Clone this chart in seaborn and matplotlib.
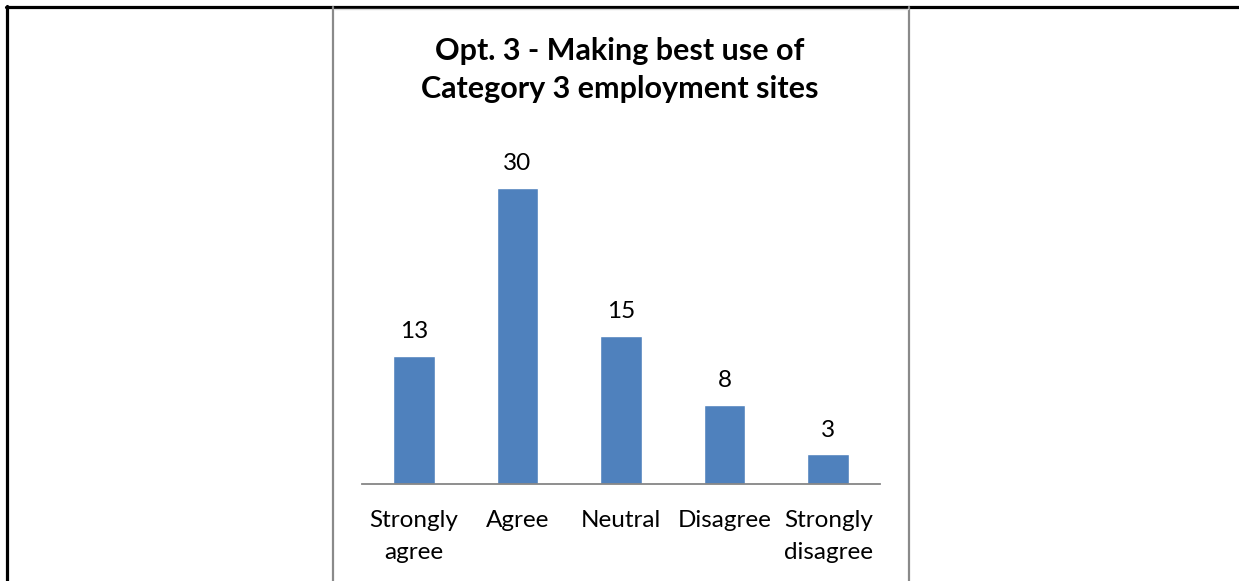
import matplotlib.pyplot as plt
import seaborn as sns
import pandas as pd
from matplotlib.lines import Line2D

categorias = ['Strongly\nagree', 'Agree', 'Neutral', 'Disagree', 'Strongly\ndisagree']
respostas = [13, 30, 15, 8, 3]
titulo = 'Opt. 3 - Making best use of\nCategory 3 employment sites'

df = pd.DataFrame({'categoria': categorias, 'respostas': respostas})

sns.set_style('white')
plt.rcParams['font.family'] = ['Lato', 'DejaVu Sans']
plt.rcParams['text.color'] = 'black'
plt.rcParams['xtick.color'] = 'black'

fig = plt.figure(figsize=(12.39, 5.81), dpi=100)

# Moldura da tabela (linhas pretas) e do gráfico (cinza)
fig.add_artist(Line2D([6 / 1239, 1], [1 - 6.5 / 581] * 2, color='black', lw=2.3,
                      transform=fig.transFigure))
fig.add_artist(Line2D([7 / 1239] * 2, [0, 1 - 6 / 581], color='black', lw=2.3,
                      transform=fig.transFigure))
for xpix in [333, 909]:
    fig.add_artist(Line2D([xpix / 1239] * 2, [0, 1 - 7 / 581], color='#8a8a8a', lw=1.6,
                          transform=fig.transFigure))
fig.add_artist(Line2D([334 / 1239, 908 / 1239], [1 - 8.5 / 581] * 2, color='#d9d9d9', lw=1,
                      transform=fig.transFigure))

ax = fig.add_axes([362 / 1239, (581 - 484) / 581, 518 / 1239, 345.4 / 581])
sns.barplot(data=df, x='categoria', y='respostas', color='#4f81bd', saturation=1,
            width=0.4, ax=ax)
ax.set_ylim(0, 35)
ax.set_xlim(-0.5, len(categorias) - 0.5)
ax.set_xlabel(None)
ax.set_ylabel(None)
ax.set_yticks([])
sns.despine(ax=ax, left=True)
ax.spines['bottom'].set_color('#868686')
ax.spines['bottom'].set_linewidth(1.3)
ax.tick_params(axis='x', length=0, pad=19)
for lbl in ax.get_xticklabels():
    lbl.set_fontsize(17.5)
    lbl.set_linespacing(1.6)
    lbl.set_color('black')

ax.bar_label(ax.containers[0], fontsize=17.5, padding=10, color='black')

fig.text(620 / 1239, 1 - 70 / 581, titulo, ha='center', va='center',
         fontsize=22, fontweight='bold', linespacing=1.45, color='black')

plt.savefig('out.png', dpi=100)
plt.close()
